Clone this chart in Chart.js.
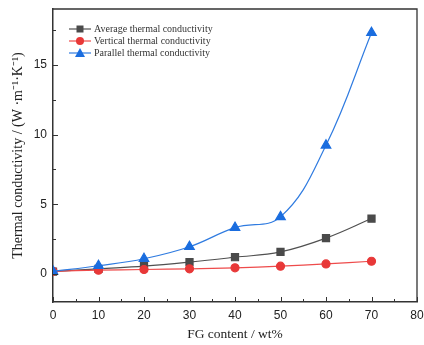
<!DOCTYPE html>
<html>
<head>
<meta charset="utf-8">
<script src="https://cdn.jsdelivr.net/npm/chart.js@4.4.0/dist/chart.umd.min.js"></script>
<style>
  html, body { margin: 0; padding: 0; background: #fff; }
  #wrap { width: 424px; height: 345px; }
</style>
</head>
<body>
<div id="wrap"><canvas id="myChart" width="424" height="345"></canvas></div>
<script>
// FG content (wt%) and thermal conductivity (W/m/K)
const fgContent = [0, 10, 20, 30, 40, 50, 60, 70];
const averageK = [0.18, 0.38, 0.57, 0.86, 1.21, 1.59, 2.58, 3.98];
const verticalK = [0.2, 0.28, 0.33, 0.38, 0.45, 0.57, 0.73, 0.92];
const parallelK = [0.2, 0.6, 1.1, 1.96, 3.33, 4.1, 9.23, 17.3];
const xTicks = [0, 10, 20, 30, 40, 50, 60, 70, 80];
const yTicks = [0, 5, 10, 15];
const seriesNames = ['Average thermal conductivity', 'Vertical thermal conductivity', 'Parallel thermal conductivity'];

const axisColor = '#333';
const toPoints = (ys) => fgContent.map((x, i) => ({ x: x, y: ys[i] }));

// box frame + inward major/minor ticks
const framePlugin = {
  id: 'frame',
  afterDraw(chart) {
    const { ctx, chartArea: a, scales } = chart;
    ctx.save();
    ctx.strokeStyle = axisColor;
    ctx.lineWidth = 1.3;
    ctx.beginPath();
    ctx.moveTo(a.left, a.top);
    ctx.lineTo(a.right, a.top);
    ctx.lineTo(a.right, a.bottom);
    ctx.stroke();

    ctx.lineWidth = 1;
    ctx.beginPath();
    for (let v = 0; v <= 80; v += 5) {
      const px = Math.round(scales.x.getPixelForValue(v)) + 0.5;
      const len = v % 10 === 0 ? 5 : 3;
      ctx.moveTo(px, a.bottom);
      ctx.lineTo(px, a.bottom - len);
    }
    for (let v = 0; v <= scales.y.max; v += 2.5) {
      const py = Math.round(scales.y.getPixelForValue(v)) + 0.5;
      const len = v % 5 === 0 ? 5 : 3;
      ctx.moveTo(a.left, py);
      ctx.lineTo(a.left + len, py);
    }
    ctx.stroke();
    ctx.restore();
  }
};

// legend drawn inside the plot, top-left
const legendPlugin = {
  id: 'insideLegend',
  afterDraw(chart) {
    const { ctx, chartArea: a } = chart;
    ctx.save();
    ctx.font = '10px "Liberation Serif", "Times New Roman", serif';
    ctx.textBaseline = 'middle';
    chart.data.datasets.forEach((ds, i) => {
      const y = a.top + 20 + i * 12;
      const x0 = a.left + 16, x1 = a.left + 38, xm = (x0 + x1) / 2;
      ctx.strokeStyle = ds.borderColor;
      ctx.lineWidth = 1.2;
      ctx.beginPath();
      ctx.moveTo(x0, y);
      ctx.lineTo(x1, y);
      ctx.stroke();
      ctx.fillStyle = ds.pointBackgroundColor;
      ctx.beginPath();
      if (ds.pointStyle === 'rect') {
        ctx.rect(xm - 3.5, y - 3.5, 7, 7);
      } else if (ds.pointStyle === 'circle') {
        ctx.arc(xm, y, 4, 0, Math.PI * 2);
      } else {
        ctx.moveTo(xm, y - 5);
        ctx.lineTo(xm + 5, y + 4);
        ctx.lineTo(xm - 5, y + 4);
        ctx.closePath();
      }
      ctx.fill();
      ctx.fillStyle = '#333';
      ctx.fillText(ds.label, x1 + 3, y + 0.5);
    });
    ctx.restore();
  }
};

const ctx = document.getElementById('myChart').getContext('2d');
const myChart = new Chart(ctx, {
  type: 'line',
  data: {
    datasets: [
      {
        label: seriesNames[0],
        data: toPoints(averageK),
        borderColor: '#505050',
        pointBackgroundColor: '#4a4a4a',
        pointBorderColor: '#4a4a4a',
        pointStyle: 'rect',
        pointRadius: 5,
        borderWidth: 1.2,
        tension: 0.4,
        order: 3
      },
      {
        label: seriesNames[1],
        data: toPoints(verticalK),
        borderColor: '#ee4b4b',
        pointBackgroundColor: '#e83838',
        pointBorderColor: '#e83838',
        pointStyle: 'circle',
        pointRadius: 4,
        borderWidth: 1.2,
        tension: 0.4,
        order: 2
      },
      {
        label: seriesNames[2],
        data: toPoints(parallelK),
        borderColor: '#2f7be0',
        pointBackgroundColor: '#1a6ddf',
        pointBorderColor: '#1a6ddf',
        pointStyle: 'triangle',
        pointRadius: 5.5,
        borderWidth: 1.2,
        tension: 0.4,
        order: 1
      }
    ]
  },
  options: {
    responsive: false,
    animation: false,
    layout: { padding: { top: 9, right: 7, left: 0, bottom: 0 } },
    plugins: { legend: { display: false }, tooltip: { enabled: false } },
    scales: {
      x: {
        type: 'linear',
        min: 0,
        max: 80,
        afterBuildTicks: (s) => { s.ticks = xTicks.map((v) => ({ value: v })); },
        afterFit: (s) => { s.height = 43; s.paddingLeft = 0; s.paddingRight = 0; },
        grid: { display: false, drawTicks: false },
        border: { display: true, color: axisColor, width: 1.5 },
        ticks: {
          padding: 6,
          color: '#222',
          font: { family: '"Liberation Sans", Arial, sans-serif', size: 12 }
        },
        title: {
          display: true,
          text: 'FG content / wt%',
          color: '#222',
          font: { family: '"Liberation Serif", "Times New Roman", serif', size: 13.5 },
          padding: { top: 4, bottom: 2 }
        }
      },
      y: {
        min: -2,
        max: 19,
        afterBuildTicks: (s) => { s.ticks = yTicks.map((v) => ({ value: v })); },
        afterFit: (s) => { s.width = 53; s.paddingTop = 0; s.paddingBottom = 0; },
        grid: { display: false, drawTicks: false },
        border: { display: true, color: axisColor, width: 1.5 },
        ticks: {
          padding: 6,
          color: '#222',
          font: { family: '"Liberation Sans", Arial, sans-serif', size: 12 }
        },
        title: {
          display: true,
          text: 'Thermal conductivity / (W ·m⁻¹·K⁻¹)',
          color: '#222',
          font: { family: '"Liberation Serif", "Times New Roman", serif', size: 14 },
          padding: { top: 10, bottom: 0 }
        }
      }
    }
  },
  plugins: [framePlugin, legendPlugin]
});
</script>
</body>
</html>
